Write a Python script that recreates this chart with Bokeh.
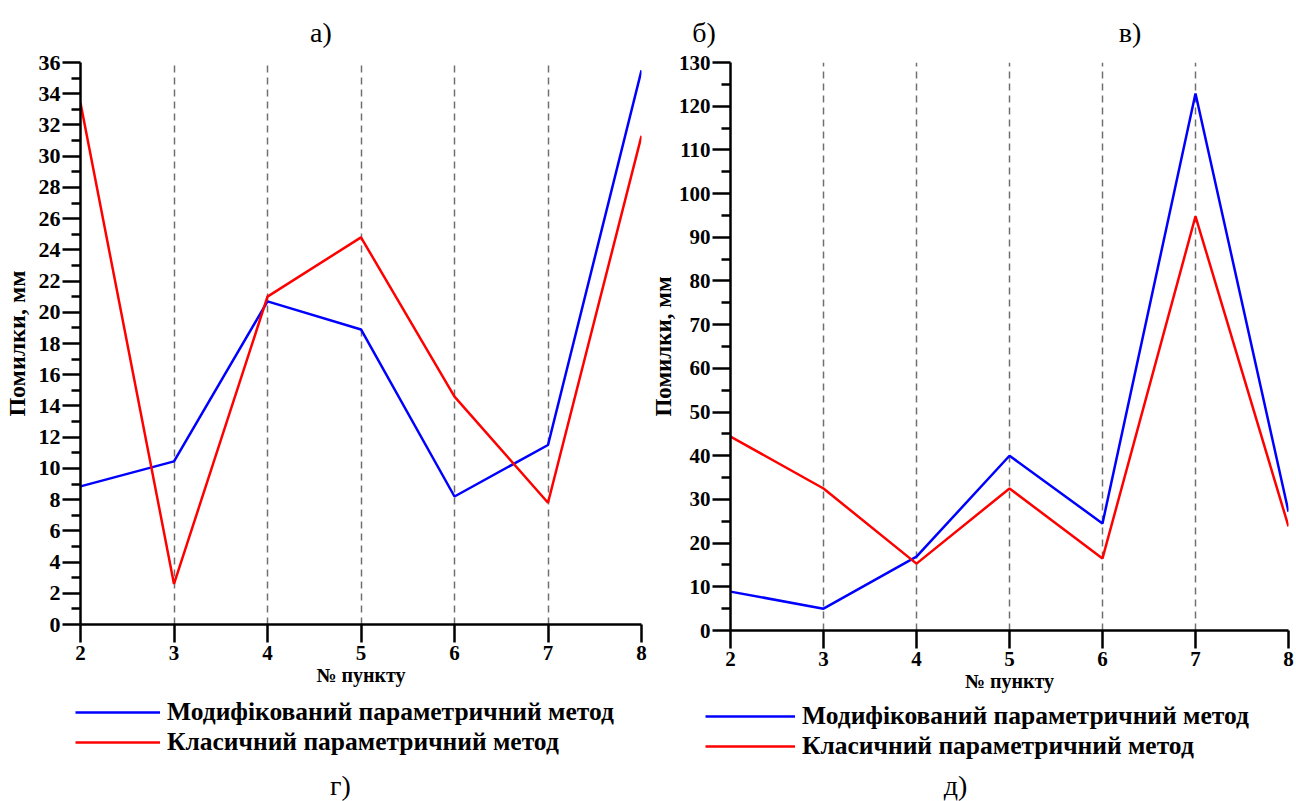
from bokeh.plotting import figure
from bokeh.layouts import row, column
from bokeh.models import Range1d, Legend, LegendItem, Label, FixedTicker, Div
from bokeh.embed import file_html
from bokeh.resources import INLINE

# ---- data ----
points = [2, 3, 4, 5, 6, 7, 8]

left_modified = [8.85, 10.45, 20.7, 18.9, 8.2, 11.5, 35.5]
left_classic = [33.4, 2.6, 21.0, 24.8, 14.6, 7.8, 31.3]

right_modified = [8.9, 5.0, 16.9, 40.0, 24.5, 122.9, 27.2]
right_classic = [44.4, 32.5, 15.3, 32.5, 16.5, 94.8, 23.8]

legend_labels = ["Модифікований параметричний метод", "Класичний параметричний метод"]
y_label = "Помилки, мм"
x_label = "№ пункту"
top_captions = ["а)", "б)", "в)"]
bottom_captions = ["г)", "д)"]

SERIF = "Liberation Serif"
BLUE = "#0000ff"
RED = "#ff0000"


def make_fig(ymax, ystep, fw, fh, bl, br, bt, bb, modified, classic,
             tick_font, label_font, label_standoff):
    p = figure(frame_width=fw, frame_height=fh,
               min_border_left=bl, min_border_right=br,
               min_border_top=bt, min_border_bottom=bb,
               x_range=Range1d(2, 8), y_range=Range1d(0, ymax),
               output_backend="svg", toolbar_location=None)
    p.outline_line_color = None
    p.background_fill_color = "white"
    p.border_fill_color = None

    # x axis
    xa = p.xaxis[0]
    xa.ticker = FixedTicker(ticks=points)
    xa.axis_line_width = 2.5
    xa.major_tick_line_width = 2.5
    xa.major_tick_out = 18
    xa.major_tick_in = 0
    xa.minor_tick_out = 0
    xa.minor_tick_in = 0
    xa.major_label_standoff = 3
    xa.major_label_text_font = SERIF
    xa.major_label_text_font_style = "bold"
    xa.major_label_text_font_size = "21px"
    xa.major_label_text_color = "black"
    xa.axis_label = x_label
    xa.axis_label_text_font = SERIF
    xa.axis_label_text_font_style = "bold"
    xa.axis_label_text_font_size = "20px"
    xa.axis_label_text_color = "black"
    xa.axis_label_standoff = 1

    # y axis
    ya = p.yaxis[0]
    ticks = list(range(0, ymax + 1, ystep))
    minors = [t + ystep / 2 for t in ticks[:-1]]
    ya.ticker = FixedTicker(ticks=ticks, minor_ticks=minors)
    ya.axis_line_width = 2.5
    ya.major_tick_line_width = 2.5
    ya.minor_tick_line_width = 2.5
    ya.major_tick_out = 18
    ya.major_tick_in = 0
    ya.minor_tick_out = 9
    ya.minor_tick_in = 0
    ya.major_label_standoff = 2
    ya.major_label_text_font = SERIF
    ya.major_label_text_font_style = "bold"
    ya.major_label_text_font_size = tick_font
    ya.major_label_text_color = "black"
    ya.axis_label = y_label
    ya.axis_label_text_font = SERIF
    ya.axis_label_text_font_style = "bold"
    ya.axis_label_text_font_size = label_font
    ya.axis_label_text_color = "black"
    ya.axis_label_standoff = label_standoff

    # grids
    p.ygrid.grid_line_color = None
    p.xgrid.ticker = FixedTicker(ticks=points)
    p.xgrid.grid_line_color = "#707070"
    p.xgrid.grid_line_width = 1.5
    p.xgrid.grid_line_dash = "7 5"

    p.line(points, modified, line_color=BLUE, line_width=2.5)
    p.line(points, classic, line_color=RED, line_width=2.5)
    return p


def legend_fig(width, height, lx, ly, gw, modified, classic, caption, cx, cy):
    # panel holding the legend and caption below a chart; the series are
    # attached here only so the legend can draw their line samples
    q = figure(width=width, height=height, x_range=Range1d(0, 1), y_range=Range1d(0, 1),
               x_axis_location=None, y_axis_location=None, min_border=0,
               output_backend="svg", toolbar_location=None)
    q.outline_line_color = None
    q.grid.grid_line_color = None
    q.border_fill_color = None
    q.background_fill_color = None
    s1 = q.line(points, modified, line_color=BLUE, line_width=2.5)
    s2 = q.line(points, classic, line_color=RED, line_width=2.5)
    leg = Legend(items=[LegendItem(label=legend_labels[0], renderers=[s1]),
                        LegendItem(label=legend_labels[1], renderers=[s2])],
                 location=(lx, ly), orientation="vertical",
                 glyph_width=gw, glyph_height=30, label_height=30,
                 label_standoff=7, spacing=0, padding=0, margin=0,
                 border_line_color=None, background_fill_alpha=0,
                 label_text_font=SERIF, label_text_font_style="bold",
                 label_text_font_size="25.5px", label_text_color="black")
    q.add_layout(leg, "center")
    q.add_layout(Label(x=cx, y=cy, x_units="screen", y_units="screen", text=caption,
                       text_align="center", text_baseline="middle",
                       text_font=SERIF, text_font_size="28px", text_color="black"))
    return q


TOP_H = 46
LEG_H = 107
# left chart: frame 78..639 x, 62..624 y
pl = make_fig(36, 2, 561, 562, 78, 6, 62 - TOP_H, 70, left_modified, left_classic,
              "22px", "24px", 6)
# right chart: frame ~731..1289 x, 58..626 y
pr = make_fig(130, 10, 558, 568, 82, 7, 58 - TOP_H, 68, right_modified, right_classic,
              "21px", "23px", 0)

ql = legend_fig(645, LEG_H, 75, 44, 85, left_modified, left_classic,
                bottom_captions[0], 340, 16)
qr = legend_fig(651, LEG_H, 60, 40, 90, right_modified, right_classic,
                bottom_captions[1], 310, 16)

caption_x = [321, 704, 1130]
spans = "".join(
    f'<span style="position:absolute;left:{x}px;top:33px;transform:translate(-50%,-50%);'
    f'white-space:nowrap;">{t}</span>'
    for t, x in zip(top_captions, caption_x))
top = Div(text=f'<div style="position:relative;width:1296px;height:{TOP_H}px;'
               f'font-family:\'Liberation Serif\';font-size:28px;color:black;line-height:1;">'
               f'{spans}</div>',
          width=1296, height=TOP_H, margin=(0, 0, 0, 0))

layout = column(top, row(pl, pr, spacing=0), row(ql, qr, spacing=0), spacing=0)
open("out.html", "w").write(file_html(layout, INLINE))
